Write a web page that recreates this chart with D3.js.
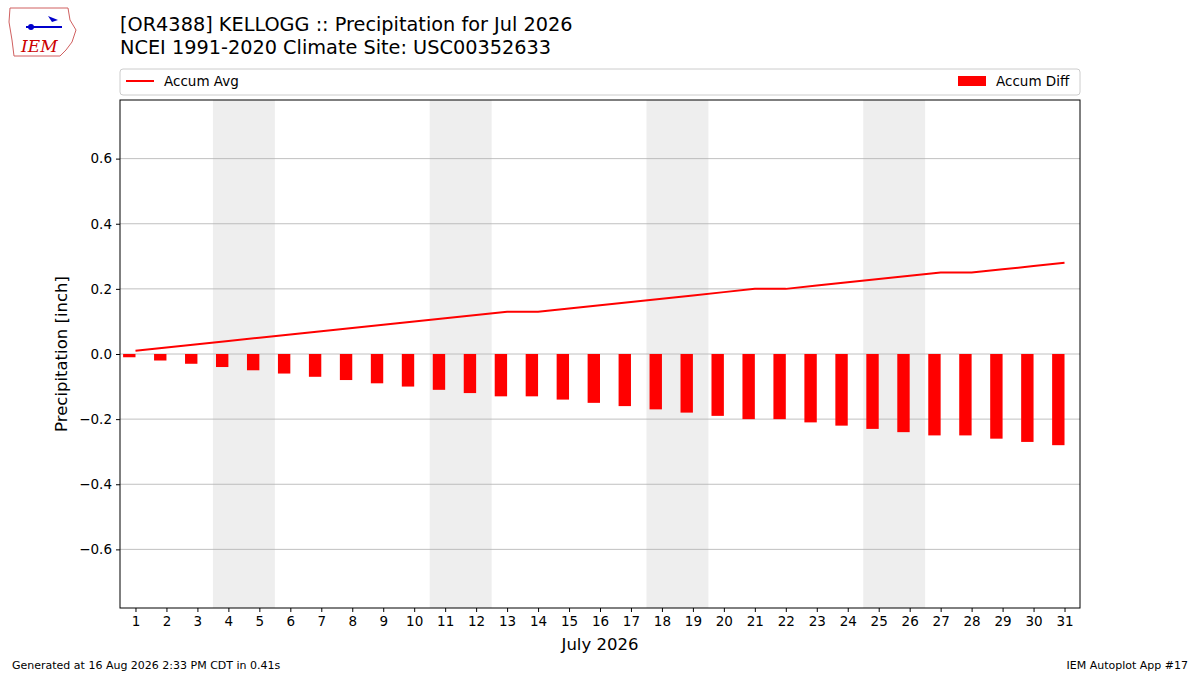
<!DOCTYPE html>
<html>
<head>
<meta charset="utf-8">
<script src="https://cdn.jsdelivr.net/npm/d3@7"></script>
<style>
  body { margin: 0; background: #fff; }
  text { font-family: "DejaVu Sans", sans-serif; }
</style>
</head>
<body>
<div id="chart"></div>
<script>
// 日付と値
var days = d3.range(1, 32);
var accumAvg = [0.01, 0.02, 0.03, 0.04, 0.05, 0.06, 0.07, 0.08, 0.09, 0.10,
  0.11, 0.12, 0.13, 0.13, 0.14, 0.15, 0.16, 0.17, 0.18, 0.19,
  0.20, 0.20, 0.21, 0.22, 0.23, 0.24, 0.25, 0.25, 0.26, 0.27, 0.28];
var accumDiff = [-0.01, -0.02, -0.03, -0.04, -0.05, -0.06, -0.07, -0.08, -0.09, -0.10,
  -0.11, -0.12, -0.13, -0.13, -0.14, -0.15, -0.16, -0.17, -0.18, -0.19,
  -0.20, -0.20, -0.21, -0.22, -0.23, -0.24, -0.25, -0.25, -0.26, -0.27, -0.28];
var weekends = [[4, 5], [11, 12], [18, 19], [25, 26]];
var yTicks = [-0.6, -0.4, -0.2, 0.0, 0.2, 0.4, 0.6];

var svg = d3.select('#chart').append('svg')
  .attr('width', 1200).attr('height', 675);

var L = 120, R = 1080, T = 100, B = 608;
var x = d3.scaleLinear().domain([0.5, 31.5]).range([L, R]);
var y = d3.scaleLinear().domain([-0.78, 0.78]).range([B, T]);

// 週末の網掛け
svg.selectAll('rect.wk').data(weekends).enter().append('rect')
  .attr('x', function(d) { return x(d[0] - 0.5); })
  .attr('width', function(d) { return x(d[1] + 0.5) - x(d[0] - 0.5); })
  .attr('y', T).attr('height', B - T).attr('fill', '#eeeeee');

// グリッド
svg.selectAll('line.grid').data(yTicks).enter().append('line')
  .attr('x1', L).attr('x2', R)
  .attr('y1', function(d) { return y(d); }).attr('y2', function(d) { return y(d); })
  .attr('stroke', '#b0b0b0').attr('stroke-width', 0.8);

// 棒
svg.selectAll('rect.bar').data(days).enter().append('rect')
  .attr('x', function(d) { return x(d - 0.4); })
  .attr('width', function(d, i) { return x(0.9) - x(0.5); })
  .attr('y', function(d, i) { return y(Math.max(0, accumDiff[i])); })
  .attr('height', function(d, i) { return Math.abs(y(accumDiff[i]) - y(0)); })
  .attr('fill', '#ff0000');

// 線
var line = d3.line().x(function(d) { return x(d); }).y(function(d, i) { return y(accumAvg[i]); });
svg.append('path').datum(days).attr('d', line)
  .attr('fill', 'none').attr('stroke', '#ff0000').attr('stroke-width', 2);

// 軸
var xAxis = d3.axisBottom(x).tickValues(days).tickSize(4).tickPadding(4);
var gx = svg.append('g').attr('transform', 'translate(0,' + B + ')').call(xAxis);
var yAxis = d3.axisLeft(y).tickValues(yTicks).tickSize(4).tickPadding(4).tickFormat(d3.format('.1f'));
var gy = svg.append('g').attr('transform', 'translate(' + L + ',0)').call(yAxis);
gy.selectAll('text').text(function(d) { return d3.format('.1f')(d).replace('-', '\u2212'); });
[gx, gy].forEach(function(g) {
  g.select('.domain').remove();
  g.selectAll('text').attr('font-size', 13.5).attr('fill', '#000').style('font-family', '"DejaVu Sans", sans-serif');
  g.selectAll('line').attr('stroke', '#000');
});
svg.append('rect').attr('x', L).attr('y', T).attr('width', R - L).attr('height', B - T)
  .attr('fill', 'none').attr('stroke', '#000').attr('stroke-width', 1);

svg.append('text').attr('x', 600).attr('y', 650).attr('text-anchor', 'middle')
  .attr('font-size', 16.5).text('July 2026');
svg.append('text').attr('transform', 'translate(67,354) rotate(-90)').attr('text-anchor', 'middle')
  .attr('font-size', 16.5).text('Precipitation [inch]');

// タイトル
svg.append('text').attr('x', 120).attr('y', 31).attr('font-size', 19.3).text('[OR4388] KELLOGG :: Precipitation for Jul 2026');
svg.append('text').attr('x', 120).attr('y', 54).attr('font-size', 19.3).text('NCEI 1991-2020 Climate Site: USC00352633');

// 凡例
svg.append('rect').attr('x', 120).attr('y', 69).attr('width', 960).attr('height', 26).attr('rx', 3)
  .attr('fill', '#fff').attr('stroke', '#cccccc');
svg.append('line').attr('x1', 126).attr('x2', 154).attr('y1', 81).attr('y2', 81)
  .attr('stroke', '#ff0000').attr('stroke-width', 2);
svg.append('text').attr('x', 164).attr('y', 86).attr('font-size', 13.5).text('Accum Avg');
svg.append('rect').attr('x', 958).attr('y', 76).attr('width', 28).attr('height', 10).attr('fill', '#ff0000');
svg.append('text').attr('x', 996).attr('y', 86).attr('font-size', 13.5).text('Accum Diff');

// ロゴ (簡略)
var logo = svg.append('g');
logo.append('path').attr('d', 'M10,8 L68,8 L70,20 L76,30 L72,42 L66,50 L60,56 L14,56 L12,40 L9,22 Z')
  .attr('fill', '#fff').attr('stroke', '#d06060').attr('stroke-width', 1);
logo.append('line').attr('x1', 26).attr('x2', 62).attr('y1', 27).attr('y2', 27).attr('stroke', '#0000cc').attr('stroke-width', 2);
logo.append('circle').attr('cx', 31).attr('cy', 27).attr('r', 3).attr('fill', '#0000cc');
logo.append('path').attr('d', 'M48,16 L58,20 L52,22 Z').attr('fill', '#0000cc');
logo.append('text').attr('x', 21).attr('y', 52).attr('font-size', 17).attr('font-style', 'italic')
  .attr('fill', '#cc0000').style('font-family', '"DejaVu Serif", serif').text('IEM');

// フッタ
svg.append('text').attr('x', 12).attr('y', 669).attr('font-size', 11).text('Generated at 16 Aug 2026 2:33 PM CDT in 0.41s');
svg.append('text').attr('x', 1188).attr('y', 669).attr('font-size', 11).attr('text-anchor', 'end').text('IEM Autoplot App #17');
</script>
</body>
</html>
